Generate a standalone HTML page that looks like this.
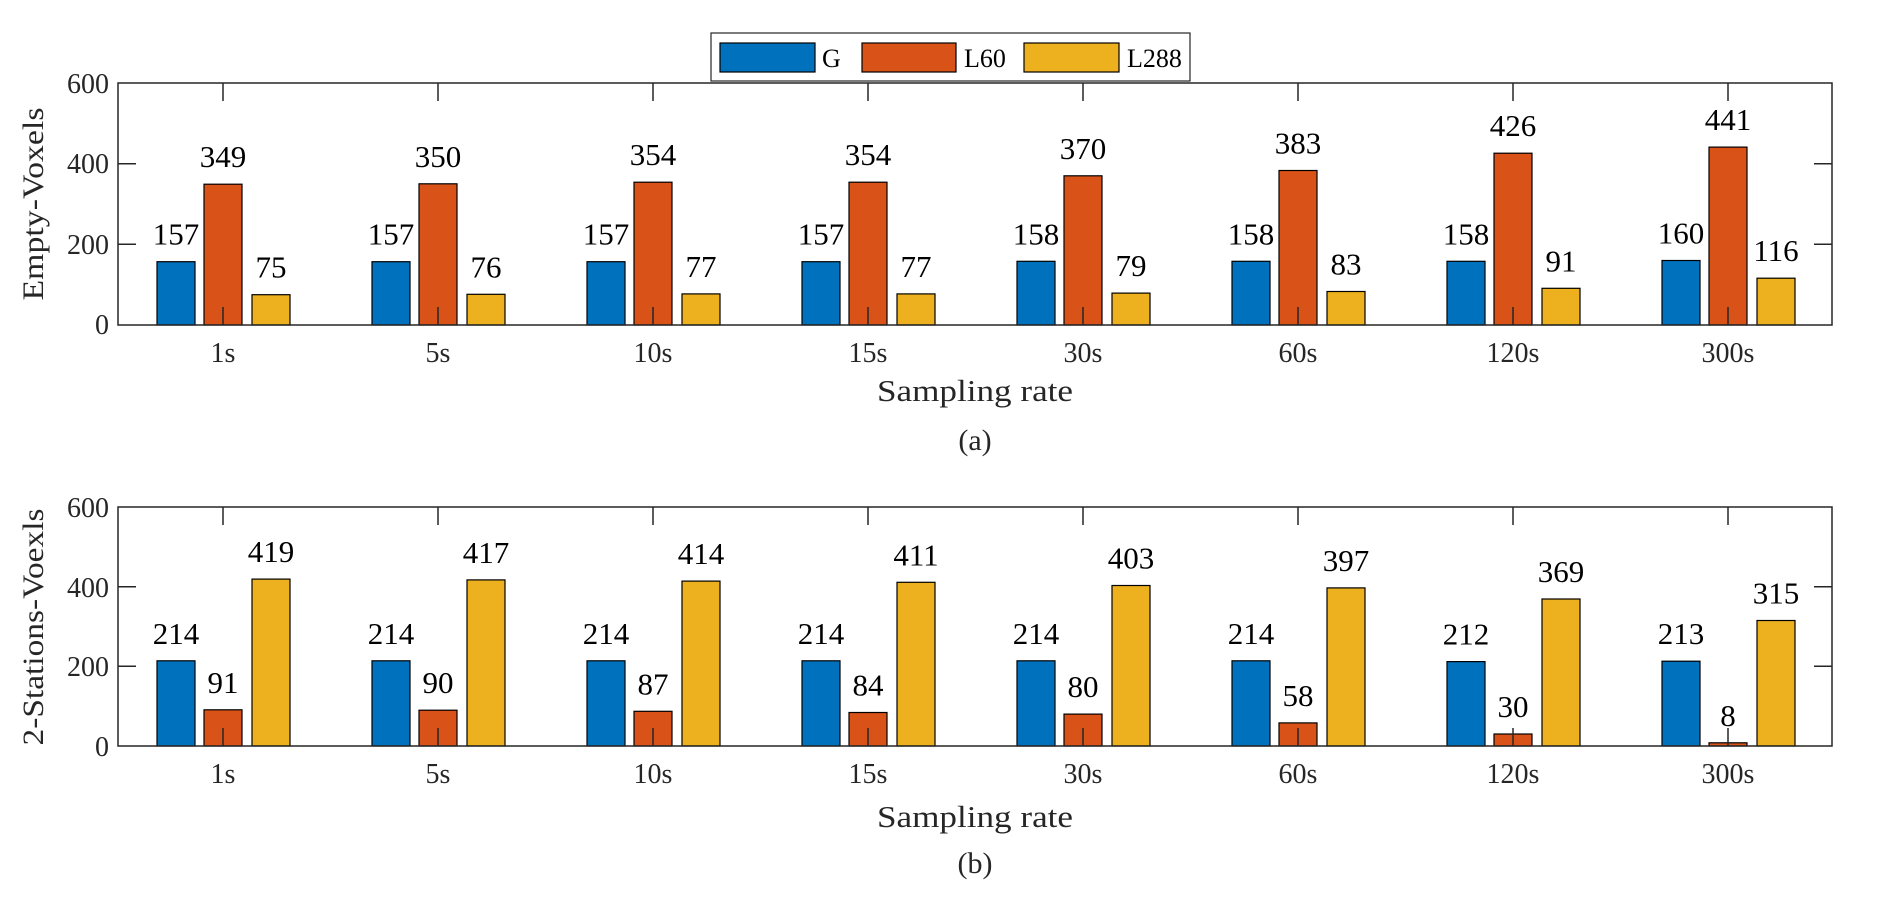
<!DOCTYPE html>
<html><head><meta charset="utf-8"><style>
html,body{margin:0;padding:0;background:#fff;}
svg{display:block;font-family:"Liberation Serif",serif;}
</style></head><body>
<svg width="1882" height="898" viewBox="0 0 1882 898" xmlns="http://www.w3.org/2000/svg">
<rect width="1882" height="898" fill="#fff"/>
<!-- ===== Panel A ===== -->
<g stroke="#000" stroke-width="1.2">
<rect x="157" y="261.7" width="38" height="63.3" fill="#0072BD"/>
<rect x="372" y="261.7" width="38" height="63.3" fill="#0072BD"/>
<rect x="587" y="261.7" width="38" height="63.3" fill="#0072BD"/>
<rect x="802" y="261.7" width="38" height="63.3" fill="#0072BD"/>
<rect x="1017" y="261.3" width="38" height="63.7" fill="#0072BD"/>
<rect x="1232" y="261.3" width="38" height="63.7" fill="#0072BD"/>
<rect x="1447" y="261.3" width="38" height="63.7" fill="#0072BD"/>
<rect x="1662" y="260.5" width="38" height="64.5" fill="#0072BD"/>
<rect x="204" y="184.2" width="38" height="140.8" fill="#D95319"/>
<rect x="419" y="183.8" width="38" height="141.2" fill="#D95319"/>
<rect x="634" y="182.2" width="38" height="142.8" fill="#D95319"/>
<rect x="849" y="182.2" width="38" height="142.8" fill="#D95319"/>
<rect x="1064" y="175.8" width="38" height="149.2" fill="#D95319"/>
<rect x="1279" y="170.5" width="38" height="154.5" fill="#D95319"/>
<rect x="1494" y="153.2" width="38" height="171.8" fill="#D95319"/>
<rect x="1709" y="147.1" width="38" height="177.9" fill="#D95319"/>
<rect x="252" y="294.7" width="38" height="30.3" fill="#EDB120"/>
<rect x="467" y="294.3" width="38" height="30.7" fill="#EDB120"/>
<rect x="682" y="293.9" width="38" height="31.1" fill="#EDB120"/>
<rect x="897" y="293.9" width="38" height="31.1" fill="#EDB120"/>
<rect x="1112" y="293.1" width="38" height="31.9" fill="#EDB120"/>
<rect x="1327" y="291.5" width="38" height="33.5" fill="#EDB120"/>
<rect x="1542" y="288.3" width="38" height="36.7" fill="#EDB120"/>
<rect x="1757" y="278.2" width="38" height="46.8" fill="#EDB120"/>
</g>
<g stroke="#262626" stroke-width="1.5" fill="none">
<rect x="118" y="83" width="1714" height="242"/>
<path d="M223 325v-18M438 325v-18M653 325v-18M868 325v-18M1083 325v-18M1298 325v-18M1513 325v-18M1728 325v-18
M223 83v18M438 83v18M653 83v18M868 83v18M1083 83v18M1298 83v18M1513 83v18M1728 83v18
M118 244.3h18M118 163.7h18M1832 244.3h-18M1832 163.7h-18"/>
</g>
<g font-size="28" fill="#262626" text-anchor="end">
<text x="109" y="334">0</text><text x="109" y="254">200</text><text x="109" y="173">400</text><text x="109" y="93">600</text>
</g>
<g font-size="28" fill="#262626" text-anchor="middle">
<text x="223" y="362">1s</text><text x="438" y="362">5s</text><text x="653" y="362">10s</text><text x="868" y="362">15s</text><text x="1083" y="362">30s</text><text x="1298" y="362">60s</text><text x="1513" y="362">120s</text><text x="1728" y="362">300s</text>
</g>
<text x="975" y="401" font-size="31" fill="#262626" text-anchor="middle" textLength="196" lengthAdjust="spacingAndGlyphs">Sampling rate</text>
<text x="975" y="450" font-size="30" fill="#262626" text-anchor="middle">(a)</text>
<text transform="translate(43,204) rotate(-90)" font-size="30" fill="#262626" text-anchor="middle" textLength="193" lengthAdjust="spacingAndGlyphs">Empty-Voxels</text>
<g font-size="31" fill="#000" text-anchor="middle">
<text x="176" y="244.7">157</text><text x="391" y="244.7">157</text><text x="606" y="244.7">157</text><text x="821" y="244.7">157</text><text x="1036" y="244.3">158</text><text x="1251" y="244.3">158</text><text x="1466" y="244.3">158</text><text x="1681" y="243.5">160</text>
<text x="223" y="167.2">349</text><text x="438" y="166.8">350</text><text x="653" y="165.2">354</text><text x="868" y="165.2">354</text><text x="1083" y="158.8">370</text><text x="1298" y="153.5">383</text><text x="1513" y="136.2">426</text><text x="1728" y="130.1">441</text>
<text x="271" y="277.7">75</text><text x="486" y="277.3">76</text><text x="701" y="276.9">77</text><text x="916" y="276.9">77</text><text x="1131" y="276.1">79</text><text x="1346" y="274.5">83</text><text x="1561" y="271.3">91</text><text x="1776" y="261.2">116</text>
</g>
<!-- Legend -->
<rect x="711" y="33" width="479" height="48" fill="#fff" stroke="#262626" stroke-width="1.2"/>
<rect x="720" y="43" width="95" height="29" fill="#0072BD" stroke="#000" stroke-width="1.2"/>
<rect x="862" y="43" width="94" height="29" fill="#D95319" stroke="#000" stroke-width="1.2"/>
<rect x="1024" y="43" width="95" height="29" fill="#EDB120" stroke="#000" stroke-width="1.2"/>
<g font-size="26" fill="#000"><text x="822" y="67">G</text><text x="964" y="67">L60</text><text x="1127" y="67">L288</text></g>

<!-- ===== Panel B ===== -->
<g stroke="#000" stroke-width="1.2">
<rect x="157" y="660.8" width="38" height="85.2" fill="#0072BD"/>
<rect x="372" y="660.8" width="38" height="85.2" fill="#0072BD"/>
<rect x="587" y="660.8" width="38" height="85.2" fill="#0072BD"/>
<rect x="802" y="660.8" width="38" height="85.2" fill="#0072BD"/>
<rect x="1017" y="660.8" width="38" height="85.2" fill="#0072BD"/>
<rect x="1232" y="660.8" width="38" height="85.2" fill="#0072BD"/>
<rect x="1447" y="661.6" width="38" height="84.4" fill="#0072BD"/>
<rect x="1662" y="661.2" width="38" height="84.8" fill="#0072BD"/>
<rect x="204" y="709.8" width="38" height="36.2" fill="#D95319"/>
<rect x="419" y="710.2" width="38" height="35.8" fill="#D95319"/>
<rect x="634" y="711.3" width="38" height="34.7" fill="#D95319"/>
<rect x="849" y="712.5" width="38" height="33.5" fill="#D95319"/>
<rect x="1064" y="714.1" width="38" height="31.9" fill="#D95319"/>
<rect x="1279" y="722.9" width="38" height="23.1" fill="#D95319"/>
<rect x="1494" y="734.0" width="38" height="12.0" fill="#D95319"/>
<rect x="1709" y="742.8" width="38" height="3.2" fill="#D95319"/>
<rect x="252" y="579.1" width="38" height="166.9" fill="#EDB120"/>
<rect x="467" y="579.9" width="38" height="166.1" fill="#EDB120"/>
<rect x="682" y="581.1" width="38" height="164.9" fill="#EDB120"/>
<rect x="897" y="582.3" width="38" height="163.7" fill="#EDB120"/>
<rect x="1112" y="585.5" width="38" height="160.5" fill="#EDB120"/>
<rect x="1327" y="587.9" width="38" height="158.1" fill="#EDB120"/>
<rect x="1542" y="599.0" width="38" height="147.0" fill="#EDB120"/>
<rect x="1757" y="620.5" width="38" height="125.5" fill="#EDB120"/>
</g>
<g stroke="#262626" stroke-width="1.5" fill="none">
<rect x="118" y="507" width="1714" height="239"/>
<path d="M223 746v-18M438 746v-18M653 746v-18M868 746v-18M1083 746v-18M1298 746v-18M1513 746v-18M1728 746v-18
M223 507v18M438 507v18M653 507v18M868 507v18M1083 507v18M1298 507v18M1513 507v18M1728 507v18
M118 666.3h18M118 586.7h18M1832 666.3h-18M1832 586.7h-18"/>
</g>
<g font-size="28" fill="#262626" text-anchor="end">
<text x="109" y="756">0</text><text x="109" y="676">200</text><text x="109" y="597">400</text><text x="109" y="517">600</text>
</g>
<g font-size="28" fill="#262626" text-anchor="middle">
<text x="223" y="783">1s</text><text x="438" y="783">5s</text><text x="653" y="783">10s</text><text x="868" y="783">15s</text><text x="1083" y="783">30s</text><text x="1298" y="783">60s</text><text x="1513" y="783">120s</text><text x="1728" y="783">300s</text>
</g>
<text x="975" y="827" font-size="31" fill="#262626" text-anchor="middle" textLength="196" lengthAdjust="spacingAndGlyphs">Sampling rate</text>
<text x="975" y="873" font-size="30" fill="#262626" text-anchor="middle">(b)</text>
<text transform="translate(43,627) rotate(-90)" font-size="30" fill="#262626" text-anchor="middle" textLength="237" lengthAdjust="spacingAndGlyphs">2-Stations-Voexls</text>
<g font-size="31" fill="#000" text-anchor="middle">
<text x="176" y="643.8">214</text><text x="391" y="643.8">214</text><text x="606" y="643.8">214</text><text x="821" y="643.8">214</text><text x="1036" y="643.8">214</text><text x="1251" y="643.8">214</text><text x="1466" y="644.6">212</text><text x="1681" y="644.2">213</text>
<text x="223" y="692.8">91</text><text x="438" y="693.2">90</text><text x="653" y="694.3">87</text><text x="868" y="695.5">84</text><text x="1083" y="697.1">80</text><text x="1298" y="705.9">58</text><text x="1513" y="717.0">30</text><text x="1728" y="725.8">8</text>
<text x="271" y="562.1">419</text><text x="486" y="562.9">417</text><text x="701" y="564.1">414</text><text x="916" y="565.3">411</text><text x="1131" y="568.5">403</text><text x="1346" y="570.9">397</text><text x="1561" y="582.0">369</text><text x="1776" y="603.5">315</text>
</g>
</svg>
</body></html>
